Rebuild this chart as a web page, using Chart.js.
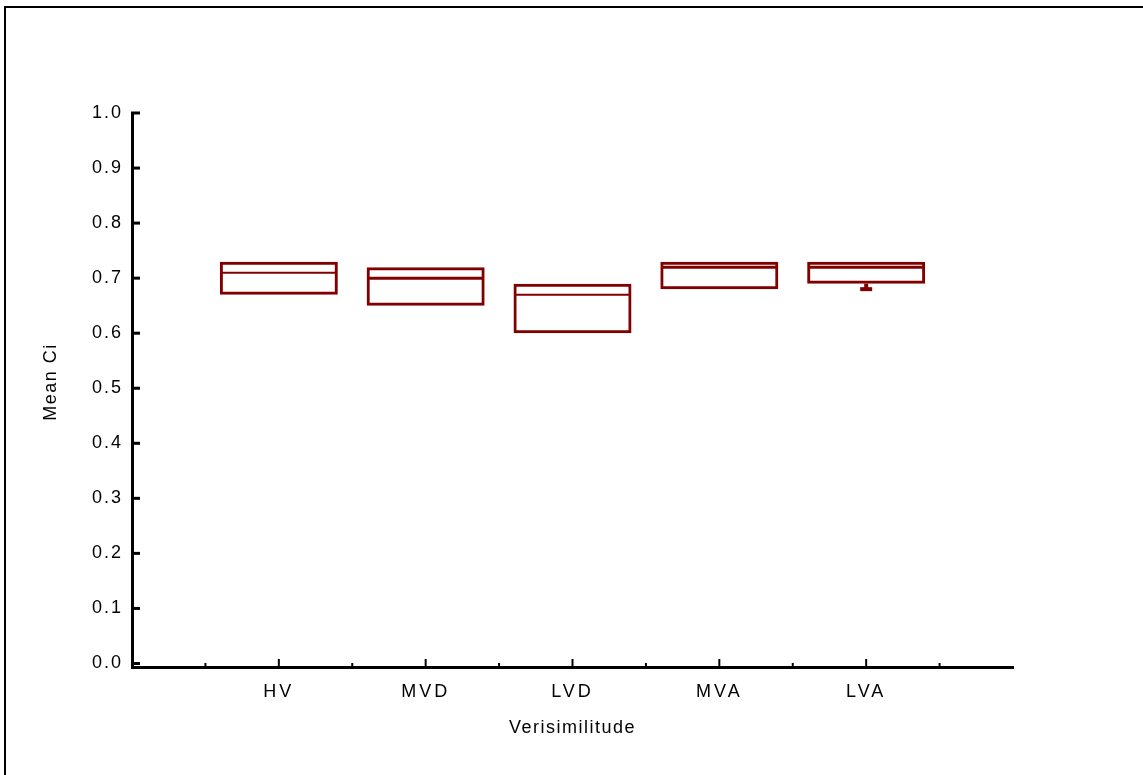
<!DOCTYPE html>
<html>
<head>
<meta charset="utf-8">
<script src="https://cdn.jsdelivr.net/npm/chart.js@4/dist/chart.umd.min.js"></script>
<style>
  html, body { margin: 0; padding: 0; background: #fff; }
  #wrap { position: relative; width: 1143px; height: 775px; overflow: hidden; }
  #frame { position: absolute; left: 4px; top: 6px; width: 1160px; height: 800px;
           border-top: 2px solid #000; border-left: 2px solid #000; pointer-events: none; }
  canvas { position: absolute; left: 0; top: 0; }
</style>
</head>
<body>
<div id="wrap">
  <canvas id="c" width="1143" height="775"></canvas>
  <div id="frame"></div>
</div>
<script>
// ---- data ----
const categories = ['HV', 'MVD', 'LVD', 'MVA', 'LVA'];
const catPositions = [1, 2, 3, 4, 5];
const q1Values = [0.67, 0.65, 0.60, 0.68, 0.69];
const medianValues = [0.71, 0.70, 0.67, 0.72, 0.72];
const q3Values = [0.73, 0.72, 0.69, 0.73, 0.73];
const minValues = [0.67, 0.65, 0.60, 0.68, 0.68];
const maxValues = [0.73, 0.72, 0.69, 0.73, 0.73];
const yTickValues = [0.0, 0.1, 0.2, 0.3, 0.4, 0.5, 0.6, 0.7, 0.8, 0.9, 1.0];
const yMinorTicks = [0.05, 0.15, 0.25, 0.35, 0.45, 0.55, 0.65, 0.75, 0.85, 0.95];
const xMinorTicks = [0.5, 1.5, 2.5, 3.5, 4.5, 5.5];

const BOX = '#800000';
const INK = '#000000';
const FONT = '"Liberation Sans", Arial, Helvetica, sans-serif';
const MEDIAN_WIDTHS = [2, 3, 2, 3, 3];

const boxData = catPositions.map((x, i) => ({ x: x, y: [q1Values[i], q3Values[i]] }));
const lowWhisker = catPositions.map((x, i) => ({ x: x, y: [minValues[i], q1Values[i]] }));
const highWhisker = catPositions.map((x, i) => ({ x: x, y: [q3Values[i], maxValues[i]] }));
const medianData = catPositions.map((x, i) => ({ x: x, y: medianValues[i] }));
const capData = catPositions.map((x, i) => ({ x: x, y: minValues[i] }))
  .filter((p, i) => minValues[i] < q1Values[i]);

function wrapDraw(scale, method, spacing, dx, dy) {
  const key = '_wrapped_' + method;
  if (scale[key]) return;
  const orig = scale[method];
  scale[method] = function (...args) {
    const ctx = this.ctx;
    ctx.save();
    ctx.letterSpacing = spacing;
    ctx.translate(dx, dy);
    orig.apply(this, args);
    ctx.restore();
  };
  scale[key] = true;
}

const spacingPlugin = {
  id: 'spacing',
  afterLayout(chart) {
    const xs = chart.scales.x, ys = chart.scales.y;
    wrapDraw(ys, 'drawLabels', '2px', 0, 0);
    wrapDraw(ys, 'drawTitle', '1.5px', 0, -8);
    wrapDraw(xs, 'drawLabels', '3px', 0, 0);
    wrapDraw(xs, 'drawTitle', '1.5px', 0, 0);
  }
};

const tickPlugin = {
  id: 'tickMarks',
  afterDraw(chart) {
    const ctx = chart.ctx;
    const xs = chart.scales.x, ys = chart.scales.y;
    const left = chart.chartArea.left, bottom = chart.chartArea.bottom;
    ctx.save();
    ctx.strokeStyle = INK;
    ctx.lineCap = 'butt';
    ctx.lineWidth = 3;
    yTickValues.forEach(v => {
      const y = ys.getPixelForValue(v);
      ctx.beginPath(); ctx.moveTo(left - 1, y); ctx.lineTo(left + 8, y); ctx.stroke();
    });
    ctx.lineWidth = 2;
    yMinorTicks.forEach(v => {
      const y = ys.getPixelForValue(v);
      ctx.beginPath(); ctx.moveTo(left - 1, y); ctx.lineTo(left + 2, y); ctx.stroke();
    });
    ctx.lineWidth = 2;
    catPositions.forEach(v => {
      const x = xs.getPixelForValue(v);
      ctx.beginPath(); ctx.moveTo(x, bottom + 1); ctx.lineTo(x, bottom - 8); ctx.stroke();
    });
    xMinorTicks.forEach(v => {
      const x = xs.getPixelForValue(v);
      ctx.beginPath(); ctx.moveTo(x, bottom + 1); ctx.lineTo(x, bottom - 4); ctx.stroke();
    });
    ctx.restore();
  }
};

new Chart(document.getElementById('c'), {
  type: 'bar',
  data: {
    datasets: [
      {
        label: 'box', data: boxData, grouped: false,
        backgroundColor: 'rgba(0,0,0,0)', borderColor: BOX, borderWidth: 3,
        borderSkipped: false, barThickness: 118, inflateAmount: 0
      },
      {
        label: 'whiskerLow', data: lowWhisker, grouped: false,
        backgroundColor: BOX, borderWidth: 0, barThickness: 4, inflateAmount: 0
      },
      {
        label: 'whiskerHigh', data: highWhisker, grouped: false,
        backgroundColor: BOX, borderWidth: 0, barThickness: 4, inflateAmount: 0
      },
      {
        type: 'line', label: 'median', data: medianData, showLine: false,
        pointStyle: 'line', pointRadius: 57, pointHoverRadius: 57,
        pointBorderWidth: MEDIAN_WIDTHS, pointBorderColor: BOX, borderColor: BOX
      },
      {
        type: 'line', label: 'cap', data: capData, showLine: false,
        pointStyle: 'line', pointRadius: 6, pointHoverRadius: 6,
        pointBorderWidth: 4, pointBorderColor: BOX, borderColor: BOX
      }
    ]
  },
  options: {
    responsive: false,
    animation: false,
    events: [],
    layout: { padding: { top: 113, right: 130, left: 0, bottom: 0 } },
    plugins: { legend: { display: false }, tooltip: { enabled: false } },
    scales: {
      x: {
        type: 'linear', min: 0, max: 6, offset: false,
        afterFit(s) { s.height = 108; },
        afterBuildTicks(s) { s.ticks = catPositions.map(v => ({ value: v })); },
        grid: { display: false, drawTicks: false },
        border: { display: true, color: INK, width: 3 },
        ticks: {
          autoSkip: false, maxRotation: 0, padding: 14, color: INK,
          font: { family: FONT, size: 18 },
          callback: (v, i) => categories[i]
        },
        title: {
          display: true, text: 'Verisimilitude', color: INK,
          font: { family: FONT, size: 18 },
          padding: { top: 0, bottom: 36 }
        }
      },
      y: {
        type: 'linear', min: -0.0064, max: 1.0,
        afterFit(s) { s.width = 132; },
        afterBuildTicks(s) { s.ticks = yTickValues.map(v => ({ value: v })); },
        grid: { display: false, drawTicks: false },
        border: { display: true, color: INK, width: 3 },
        ticks: {
          autoSkip: false, padding: 9, color: INK,
          font: { family: FONT, size: 18 },
          callback: v => v.toFixed(1)
        },
        title: {
          display: true, text: 'Mean Ci', color: INK,
          font: { family: FONT, size: 18 },
          padding: { top: 40, bottom: 0 }
        }
      }
    }
  },
  plugins: [spacingPlugin, tickPlugin]
});
</script>
</body>
</html>
